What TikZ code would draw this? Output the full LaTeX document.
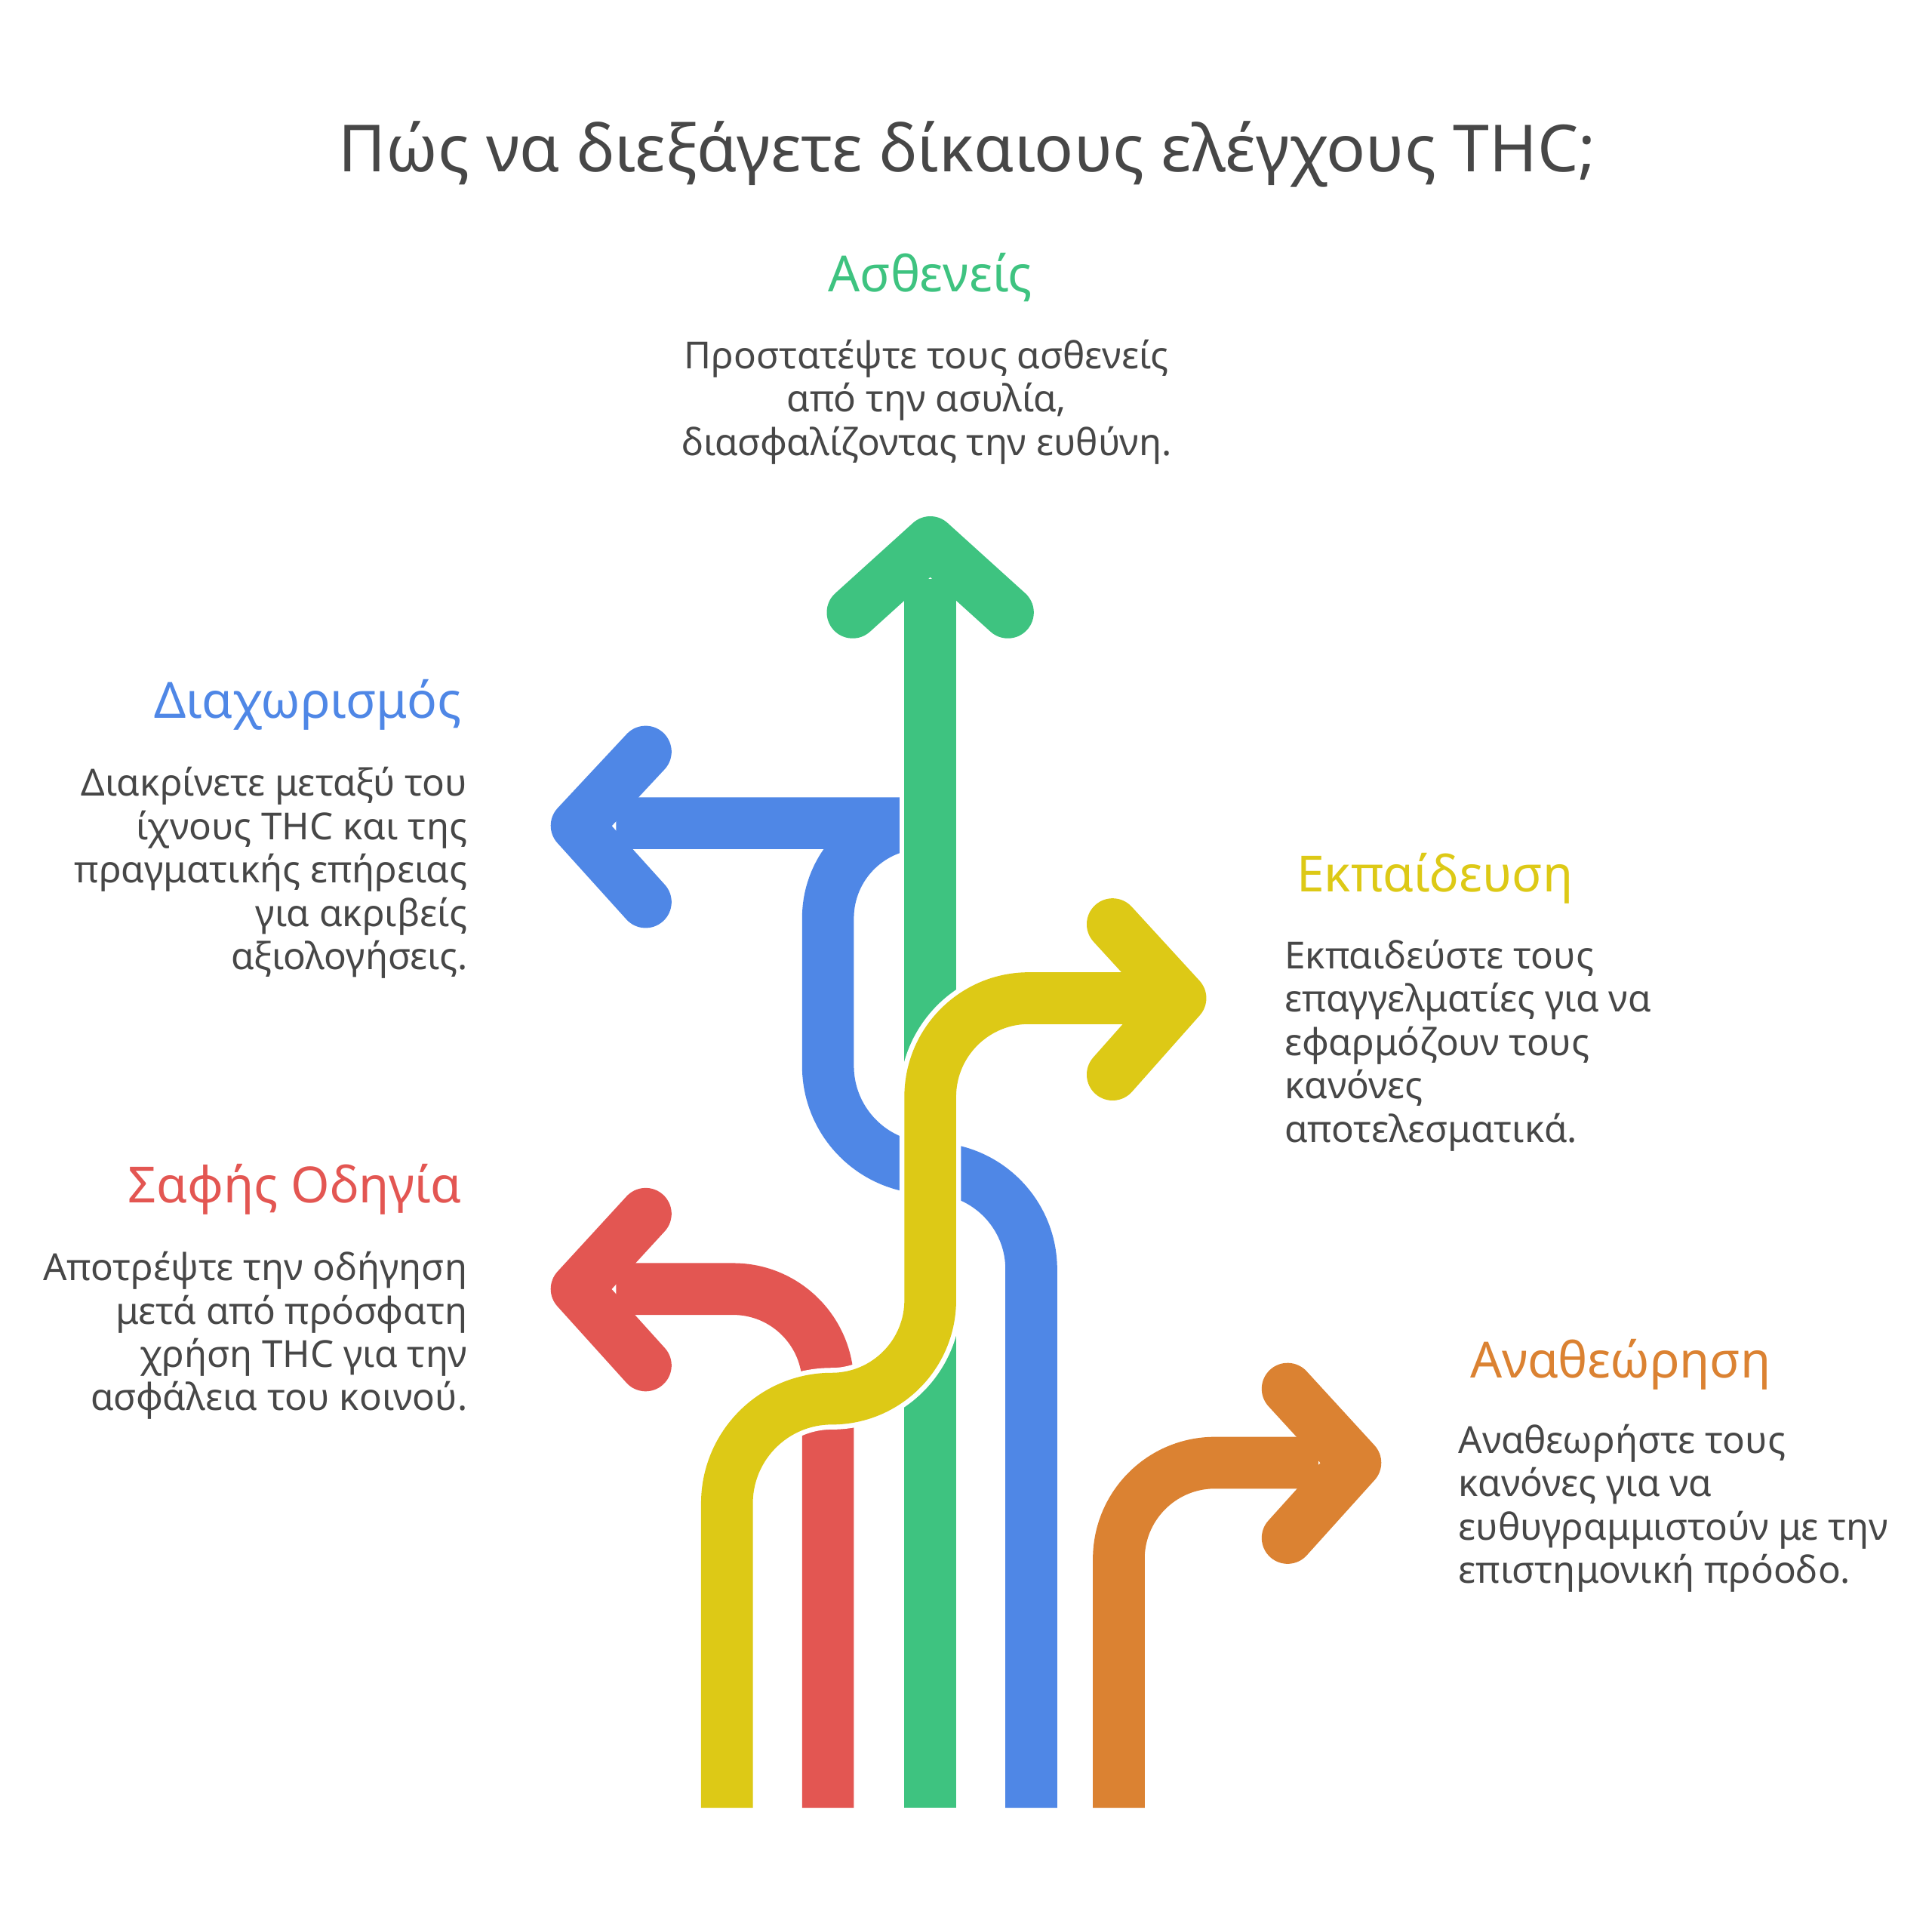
\documentclass[tikz,border=0pt]{standalone}
\usepackage{fontspec}
\setmainfont{Noto Sans}
\definecolor{cgreen}{HTML}{3EC380}
\definecolor{cblue}{HTML}{4F87E6}
\definecolor{cred}{HTML}{E35652}
\definecolor{cyellow}{HTML}{DDC916}
\definecolor{corange}{HTML}{DB8232}
\definecolor{cgray}{HTML}{474747}
\tikzset{
Band/.style={line width=0.42cm, line join=round},
Gap/.style={line width=0.50cm, white},
Head/.style={line width=0.42cm, line cap=round, line join=round},
Title/.style={font=\bfseries\fontsize{15}{18}\selectfont, text=cgray},
Heading/.style={font=\bfseries\fontsize{11.5}{14}\selectfont},
Body/.style={font=\fontsize{8.6}{10}\selectfont, text=cgray, inner sep=0pt}
}
\newcommand{\band}[2]{\draw[Gap] #2; \draw[Band, #1] #2;}
\begin{document}
\begin{tikzpicture}[x=0.01cm, y=-0.01cm]
\useasboundingbox (0,0) rectangle (1568,1566);
% blue
\band{cblue}{(837,1467) -- (837,1030) arc[start angle=0, end angle=-90, radius=82] arc[start angle=90, end angle=180, radius=83] -- (672,745) arc[start angle=180, end angle=270, radius=77] -- (500,668)}
\draw[Head, cblue] (524,610) -- (468,670) -- (524,732);
% green
\band{cgreen}{(755,1467) -- (755,470)}
\draw[Head, cgreen] (692,497) -- (755,440) -- (818,497);
% red
\band{cred}{(672,1467) -- (672,1123) arc[start angle=0, end angle=-90, radius=77] -- (500,1046)}
\draw[Head, cred] (524,985) -- (468,1046) -- (524,1108);
% yellow
\band{cyellow}{(590,1467) -- (590,1220) arc[start angle=180, end angle=270, radius=85] arc[start angle=90, end angle=0, radius=80] -- (755,890) arc[start angle=180, end angle=270, radius=80] -- (930,810)}
\draw[Head, cyellow] (903,750) -- (958,810) -- (903,872);
% orange
\band{corange}{(908,1467) -- (908,1265) arc[start angle=180, end angle=270, radius=78] -- (1070,1187)}
\draw[Head, corange] (1045,1127) -- (1100,1187) -- (1045,1248);
% texts
\node[Title] (title) at (785,125) {Πώς να διεξάγετε δίκαιους ελέγχους THC;};
\node[Heading, text=cgreen] (h1) at (755,225) {Ασθενείς};
\node[Body, align=center, anchor=north] (b1) at (752,275) {Προστατέψτε τους ασθενείς\\από την ασυλία,\\διασφαλίζοντας την ευθύνη.};
\node[Heading, text=cblue, anchor=east] (h2) at (387,572) {Διαχωρισμός};
\node[Body, align=right, anchor=north east] (b2) at (380,622) {Διακρίνετε μεταξύ του\\ίχνους THC και της\\πραγματικής επήρειας\\για ακριβείς\\αξιολογήσεις.};
\node[Heading, text=cyellow, anchor=west] (h3) at (1040,713) {Εκπαίδευση};
\node[Body, align=left, anchor=north west] (b3) at (1042,762) {Εκπαιδεύστε τους\\επαγγελματίες για να\\εφαρμόζουν τους\\κανόνες\\αποτελεσματικά.};
\node[Heading, text=cred, anchor=east] (h4) at (387,965) {Σαφής Οδηγία};
\node[Body, align=right, anchor=north east] (b4) at (380,1015) {Αποτρέψτε την οδήγηση\\μετά από πρόσφατη\\χρήση THC για την\\ασφάλεια του κοινού.};
\node[Heading, text=corange, anchor=west] (h5) at (1181,1107) {Αναθεώρηση};
\node[Body, align=left, anchor=north west] (b5) at (1183,1155) {Αναθεωρήστε τους\\κανόνες για να\\ευθυγραμμιστούν με την\\επιστημονική πρόοδο.};
\end{tikzpicture}
\end{document}
